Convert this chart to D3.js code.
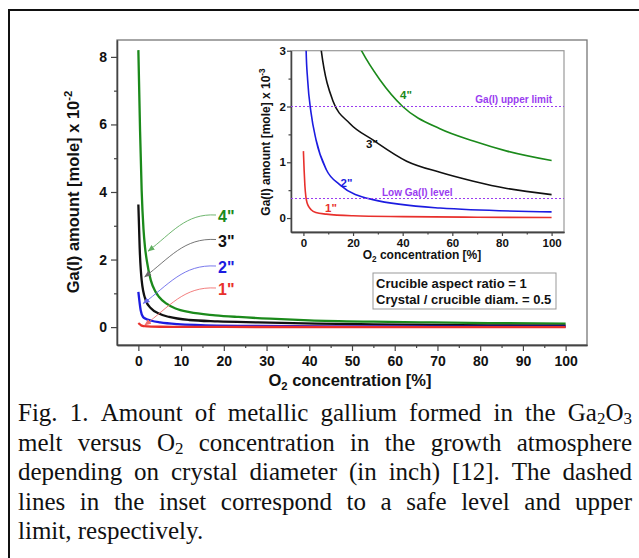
<!DOCTYPE html>
<html lang="en">
<head>
<meta charset="utf-8">
<title>Ga(I) amount vs O2 concentration</title>
<script src="https://d3js.org/d3.v7.min.js"></script>
<style>
  body { margin: 0; background: #fff; }
  svg text { font-family: "Liberation Sans", Arial, sans-serif; font-weight: bold; }
  svg .caption text { font-family: "Liberation Serif", "Times New Roman", serif; font-weight: normal; }
</style>
</head>
<body>
<script>
// O2 concentration [%] and Ga(I) amount [mole x 10^-3], one pair per crystal diameter
var o2_1in = [0, 0.3, 0.6, 1, 1.5, 2.2, 3.1, 5, 9.2, 20, 40, 70, 100];
var ga_1in = [1.2, 0.85, 0.58, 0.38, 0.27, 0.2, 0.15, 0.1, 0.07, 0.04, 0.025, 0.015, 0.01];
var o2_2in = [0, 0.54, 1.1, 1.7, 3.1, 5.1, 9.2, 14.6, 28, 55, 100];
var ga_2in = [10.4, 5.0, 3.0, 2.48, 1.88, 1.4, 0.87, 0.6, 0.33, 0.18, 0.11];
var o2_3in = [0, 0.3, 0.77, 1.7, 3, 4.8, 7.2, 11.9, 18.6, 28, 41.6, 55, 68.5, 82, 100];
var ga_3in = [36.3, 23.7, 13.9, 8.0, 5.5, 4.0, 3.0, 2.1, 1.7, 1.4, 1.02, 0.82, 0.66, 0.53, 0.42];
var o2_4in = [0, 0.4, 0.77, 1.2, 1.55, 2, 2.9, 4, 4.8, 6.5, 8.7, 12, 18, 23.4, 30.8, 40, 55, 68.5, 82, 100];
var ga_4in = [82, 58, 40.5, 29, 23.7, 19.5, 13.9, 10.5, 9.0, 7.0, 5.5, 4.4, 3.5, 3.0, 2.48, 2.0, 1.6, 1.38, 1.2, 1.03];

var diameters = ['1"', '2"', '3"', '4"'];
var colors = ["#e8302c", "#1c1ce0", "#111111", "#1b8a1b"];
var arrowColors = ["#f07070", "#6a6aea", "#666666", "#5fae5f"];

// dashed levels in the inset [mole x 10^-3]
var lowLevel = 0.35, upperLimit = 2.0;

var mainXTicks = [0, 10, 20, 30, 40, 50, 60, 70, 80, 90, 100];
var mainYTicks = [0, 2, 4, 6, 8];
var insetXTicks = [0, 20, 40, 60, 80, 100];
var insetYTicks = [0, 1, 2, 3];

var captionLines = [
  "Fig. 1. Amount of metallic gallium formed in the Ga_2O_3",
  "melt versus O_2 concentration in the growth atmosphere",
  "depending on crystal diameter (in inch) [12]. The dashed",
  "lines in the inset correspond to a safe level and upper",
  "limit, respectively."
];

var series = [
  {x: o2_1in, y: ga_1in},
  {x: o2_2in, y: ga_2in},
  {x: o2_3in, y: ga_3in},
  {x: o2_4in, y: ga_4in}
].map(function(s, i) {
  return {name: diameters[i], color: colors[i],
          pts: s.x.map(function(v, j) { return [v, s.y[j]]; })};
});

var w = 639, h = 558;
var svg = d3.select("body").append("svg").attr("width", w).attr("height", h);
var defs = svg.append("defs");

// outer frame of the figure
svg.append("rect").attr("x", 9).attr("y", 10).attr("width", 640).attr("height", 560)
  .attr("fill", "none").attr("stroke", "#111").attr("stroke-width", 2);

// text with _x subscripts and ^{..} superscripts
function rich(t, str, fs, subDrop) {
  var shift = 0;
  str.split(/(_[^_\s]|\^\{[^}]*\})/).filter(function(s) { return s.length; }).forEach(function(p) {
    var off = 0, txt = p, size = fs;
    if (p[0] === "_") { off = fs * (subDrop || 0.22); txt = p.slice(1); size = fs * 0.68; }
    else if (p[0] === "^") { off = -fs * 0.4; txt = p.slice(2, -1); size = fs * 0.68; }
    t.append("tspan").attr("dy", off - shift).attr("font-size", size).text(txt);
    shift = off;
  });
  return t;
}

function styleAxis(g, fs) {
  g.attr("font-family", null);
  g.select(".domain").attr("stroke", "#444").attr("stroke-width", 1.3);
  g.selectAll(".tick line").attr("stroke", "#444").attr("stroke-width", 1.2);
  g.selectAll("text").attr("fill", "#111").style("font-size", fs + "px");
}

// ---------- main chart ----------
var x = d3.scaleLinear().domain([-5, 105]).range([117, 587]);
var y = d3.scaleLinear().domain([-0.53, 8.5]).range([345, 40]);

svg.append("rect").attr("x", 117).attr("y", 40).attr("width", 470).attr("height", 305)
  .attr("fill", "none").attr("stroke", "#777").attr("stroke-width", 1.3);

svg.append("g").attr("transform", "translate(0,345)")
  .call(d3.axisBottom(x).tickValues(d3.range(5, 100, 10)).tickSize(3).tickSizeOuter(0).tickFormat(""))
  .call(styleAxis, 14);
svg.append("g").attr("transform", "translate(0,345)")
  .call(d3.axisBottom(x).tickValues(mainXTicks).tickSize(6).tickSizeOuter(0).tickPadding(5)
    .tickFormat(d3.format("d")))
  .call(styleAxis, 14);
svg.append("g").attr("transform", "translate(117,0)")
  .call(d3.axisLeft(y).tickValues([1, 3, 5, 7]).tickSize(3).tickSizeOuter(0).tickFormat(""))
  .call(styleAxis, 14);
svg.append("g").attr("transform", "translate(117,0)")
  .call(d3.axisLeft(y).tickValues(mainYTicks).tickSize(6).tickSizeOuter(0).tickPadding(4)
    .tickFormat(d3.format("d")))
  .call(styleAxis, 14);

rich(svg.append("text").attr("x", 350).attr("y", 386).attr("text-anchor", "middle")
  .attr("fill", "#111").style("font-size", "16.5px"), "O_2 concentration [%]", 16.5);
rich(svg.append("text").attr("transform", "translate(79,192) rotate(-90)").attr("text-anchor", "middle")
  .attr("fill", "#111").style("font-size", "16.5px"), "Ga(I) amount [mole] x 10^{-2}", 16.5);

var mainLine = d3.line().curve(d3.curveMonotoneX)
  .x(function(d) { return x(d[0]); })
  .y(function(d) { return y(d[1] / 10); });

svg.append("g").selectAll("path").data(series.slice().reverse()).join("path")
  .attr("d", function(d) { return mainLine(d.pts); })
  .attr("fill", "none").attr("stroke", function(d) { return d.color; })
  .attr("stroke-width", 2.3);

// curve labels with arrows (label baseline, arrow tip in data units)
var labelY = [295, 273, 246.5, 222];
var arrowTip = [[1.5, 0.06], [1.15, 0.70], [1.5, 1.49], [2.3, 2.25]];
series.forEach(function(s, i) {
  defs.append("marker").attr("id", "ah" + i).attr("viewBox", "0 0 10 10")
    .attr("refX", 9).attr("refY", 5).attr("markerWidth", 7).attr("markerHeight", 7)
    .attr("markerUnits", "userSpaceOnUse").attr("orient", "auto")
    .append("path").attr("d", "M0,1L10,5L0,9z").attr("fill", arrowColors[i]);
  var x0 = 216, y0 = labelY[i] - 7;
  var x3 = x(arrowTip[i][0]), y3 = y(arrowTip[i][1]);
  var dw = x0 - x3, dh = y3 - y0;
  var p = d3.path();
  p.moveTo(x0, y0);
  p.bezierCurveTo(x0 - 0.45 * dw, y0 - 0.05 * dh, x3 + 0.35 * dw, y3 - 0.5 * dh, x3, y3);
  svg.append("path").attr("d", p.toString()).attr("fill", "none")
    .attr("stroke", arrowColors[i]).attr("stroke-width", 0.9)
    .attr("marker-end", "url(#ah" + i + ")");
  svg.append("text").attr("x", 218).attr("y", labelY[i]).attr("fill", s.color)
    .style("font-size", "16px").text(s.name);
});

// note box
svg.append("rect").attr("x", 373).attr("y", 273).attr("width", 183).attr("height", 36)
  .attr("fill", "#fff").attr("stroke", "#999").attr("stroke-width", 1);
svg.append("text").attr("x", 376).attr("y", 287.5).attr("fill", "#111").style("font-size", "13px")
  .text("Crucible aspect ratio = 1");
svg.append("text").attr("x", 376).attr("y", 304).attr("fill", "#111").style("font-size", "13px")
  .text("Crystal / crucible diam. = 0.5");

// ---------- inset ----------
var ix = d3.scaleLinear().domain([-5, 105]).range([291, 564]);
var iy = d3.scaleLinear().domain([-0.25, 3]).range([232, 50.7]);

svg.append("rect").attr("x", 291).attr("y", 50.7).attr("width", 273).attr("height", 181.3)
  .attr("fill", "#fff").attr("stroke", "#999").attr("stroke-width", 1.2);
defs.append("clipPath").attr("id", "insetClip").append("rect")
  .attr("x", 291).attr("y", 50.7).attr("width", 273).attr("height", 181.3);

svg.append("g").attr("transform", "translate(0,232)")
  .call(d3.axisBottom(ix).tickValues(d3.range(10, 100, 20)).tickSize(2.5).tickSizeOuter(0).tickFormat(""))
  .call(styleAxis, 11.5);
svg.append("g").attr("transform", "translate(0,232)")
  .call(d3.axisBottom(ix).tickValues(insetXTicks).tickSize(4).tickSizeOuter(0).tickPadding(2.5)
    .tickFormat(d3.format("d")))
  .call(styleAxis, 11.5);
svg.append("g").attr("transform", "translate(291,0)")
  .call(d3.axisLeft(iy).tickValues([0.5, 1.5, 2.5]).tickSize(2.5).tickSizeOuter(0).tickFormat(""))
  .call(styleAxis, 11.5);
svg.append("g").attr("transform", "translate(291,0)")
  .call(d3.axisLeft(iy).tickValues(insetYTicks).tickSize(4).tickSizeOuter(0).tickPadding(1)
    .tickFormat(d3.format("d")))
  .call(styleAxis, 11.5);

rich(svg.append("text").attr("x", 422).attr("y", 259).attr("text-anchor", "middle")
  .attr("fill", "#111").style("font-size", "12px"), "O_2 concentration [%]", 12);
rich(svg.append("text").attr("transform", "translate(270,142) rotate(-90)").attr("text-anchor", "middle")
  .attr("fill", "#111").style("font-size", "12px"), "Ga(I) amount [mole] x 10^{-3}", 12);

var insetLine = d3.line().curve(d3.curveMonotoneX)
  .x(function(d) { return ix(d[0]); })
  .y(function(d) { return iy(d[1]); });

svg.append("g").attr("clip-path", "url(#insetClip)")
  .selectAll("path").data(series).join("path")
  .attr("d", function(d) { return insetLine(d.pts); })
  .attr("fill", "none").attr("stroke", function(d) { return d.color; })
  .attr("stroke-width", 1.6);

[lowLevel, upperLimit].forEach(function(v) {
  svg.append("line").attr("x1", 291).attr("x2", 564).attr("y1", iy(v)).attr("y2", iy(v))
    .attr("stroke", "#9a3cf0").attr("stroke-width", 1.1).attr("stroke-dasharray", "2,2");
});
svg.append("text").attr("x", 552).attr("y", iy(upperLimit) - 3.5).attr("text-anchor", "end")
  .attr("fill", "#9a3cf0").style("font-size", "10px").text("Ga(I) upper limit");
svg.append("text").attr("x", 382).attr("y", iy(lowLevel) - 2.5)
  .attr("fill", "#9a3cf0").style("font-size", "10px").text("Low Ga(I) level");

var insetLabelPos = [[325, 211.5], [340.5, 187], [366, 148], [400, 98.5]];
series.forEach(function(s, i) {
  svg.append("text").attr("x", insetLabelPos[i][0]).attr("y", insetLabelPos[i][1])
    .attr("fill", s.color).style("font-size", "11.5px").text(s.name);
});

// ---------- caption (justified) ----------
var cap = svg.append("g").attr("class", "caption");
var capLeft = 18, capRight = 632, capSize = 25;
captionLines.forEach(function(line, li) {
  var by = 421 + li * 29.5;
  var words = line.split(" ").map(function(wd) {
    var t = rich(cap.append("text").attr("y", by).attr("fill", "#111")
      .style("font-size", capSize + "px"), wd, capSize, 0.12);
    return {t: t, w: t.node().getComputedTextLength()};
  });
  var total = d3.sum(words, function(d) { return d.w; });
  var gap = li < captionLines.length - 1 ? (capRight - capLeft - total) / (words.length - 1) : capSize * 0.25;
  var cx = capLeft;
  words.forEach(function(d) {
    d.t.attr("x", cx);
    d.t.select("tspan").attr("x", cx);
    cx += d.w + gap;
  });
});
</script>
</body>
</html>
